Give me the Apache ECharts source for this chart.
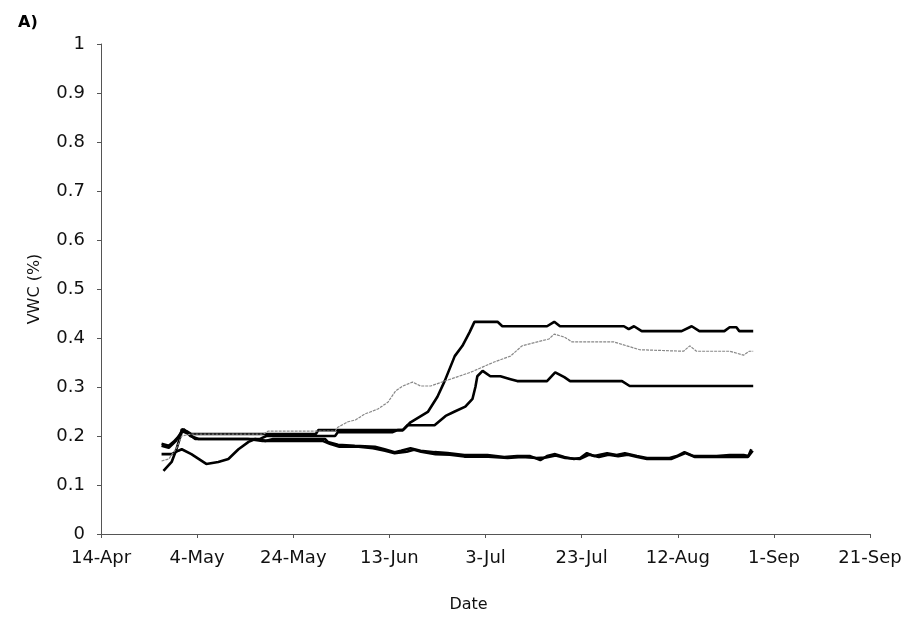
<!DOCTYPE html>
<html>
<head>
<meta charset="utf-8">
<script src="https://cdn.jsdelivr.net/npm/echarts@6/dist/echarts.min.js"></script>
<style>
  html, body { margin: 0; padding: 0; background: #fff; }
  #chart { width: 913px; height: 623px; }
</style>
</head>
<body>
<div id="chart"></div>
<script>
// x values are days after 14-Apr
const xTickDays = [0, 20, 40, 60, 80, 100, 120, 140, 160];
const yTicks = [0, 0.1, 0.2, 0.3, 0.4, 0.5, 0.6, 0.7, 0.8, 0.9, 1];

const s1Days = [12.6,14.1,15.1,16.6,16.8,17.8,18.8,44.7,45.2,62.8,64.4,68.0,70.0,71.5,73.6,75.2,76.7,77.7,82.5,83.5,92.8,94.3,95.5,108.8,109.8,110.9,112.5,120.8,122.9,124.5,129.7,130.8,132.2,132.8,135.7];
const s1Vals = [0.184,0.180,0.188,0.204,0.214,0.210,0.204,0.204,0.212,0.212,0.228,0.249,0.280,0.312,0.363,0.384,0.412,0.433,0.433,0.424,0.424,0.433,0.424,0.424,0.418,0.424,0.414,0.414,0.424,0.414,0.414,0.422,0.422,0.414,0.414];

const s2Days = [12.6,14.1,15.7,16.8,18.8,33.8,34.8,48.7,49.3,51.4,53.0,54.9,56.0,57.6,59.7,61.3,62.8,64.8,66.5,68.6,71.5,76.9,81.8,85.2,87.6,90.8,93.2,94.3,96.4,98.0,106.7,109.4,112.1,121.2,122.5,123.9,130.8,133.7,134.9,135.7];
const s2Vals = [0.149,0.153,0.175,0.200,0.204,0.204,0.210,0.210,0.218,0.229,0.233,0.245,0.249,0.255,0.269,0.292,0.302,0.310,0.302,0.302,0.312,0.330,0.351,0.363,0.384,0.392,0.398,0.408,0.402,0.392,0.392,0.384,0.376,0.373,0.384,0.373,0.373,0.365,0.373,0.373];

const s3Days = [13.0,14.7,15.7,16.8,17.2,18.6,20.3,33.1,34.4,48.7,49.3,60.7,61.7,62.8,63.8,69.4,71.7,73.6,75.8,77.3,77.9,78.3,79.4,81.0,83.1,85.2,86.6,92.8,94.5,96.4,97.6,108.4,110.0,135.7];
const s3Vals = [0.129,0.147,0.173,0.208,0.214,0.200,0.194,0.194,0.200,0.200,0.208,0.208,0.212,0.212,0.222,0.222,0.241,0.250,0.260,0.276,0.300,0.322,0.333,0.322,0.322,0.316,0.312,0.312,0.330,0.320,0.312,0.312,0.302,0.302];

const s4Days = [12.6,14.7,16.1,16.8,18.8,21.9,24.4,26.5,28.6,30.7,32.1,34.2,35.8,46.6,47.2,49.3,52.8,57.0,59.0,61.1,62.4,64.4,66.5,69.4,72.1,75.6,80.4,83.9,86.6,89.3,91.4,92.8,94.5,96.4,98.4,99.7,101.1,102.6,105.3,107.3,109.0,111.5,113.6,118.3,119.8,121.4,123.3,128.1,130.8,133.7,134.7,135.3];
const s4Vals = [0.163,0.163,0.170,0.173,0.163,0.143,0.147,0.153,0.173,0.188,0.194,0.190,0.194,0.194,0.188,0.182,0.180,0.178,0.173,0.167,0.170,0.175,0.170,0.167,0.165,0.161,0.161,0.157,0.159,0.159,0.151,0.159,0.163,0.157,0.153,0.155,0.165,0.159,0.165,0.161,0.165,0.159,0.155,0.155,0.159,0.167,0.159,0.159,0.161,0.161,0.159,0.173];

const s5Days = [12.6,14.1,15.6,16.8,18.1,19.6,30.6,33.6,35.6,46.1,47.6,49.6,53.6,56.6,59.1,61.1,63.6,65.1,66.6,69.6,72.6,75.6,80.6,84.6,87.6,90.6,92.6,94.6,96.6,99.6,101.6,103.6,105.6,107.6,109.6,111.6,113.6,118.6,121.6,123.6,128.6,131.6,134.6,135.6];
const s5Vals = [0.180,0.176,0.190,0.210,0.205,0.194,0.194,0.190,0.190,0.190,0.184,0.178,0.178,0.175,0.170,0.165,0.168,0.172,0.168,0.163,0.162,0.158,0.158,0.155,0.157,0.155,0.156,0.160,0.155,0.153,0.162,0.157,0.162,0.159,0.162,0.157,0.153,0.153,0.165,0.157,0.157,0.158,0.157,0.170];

const months = ['Jan','Feb','Mar','Apr','May','Jun','Jul','Aug','Sep','Oct','Nov','Dec'];
function dayLabel(v) {
  const d = new Date(2003, 3, 14 + Math.round(v));
  return d.getDate() + '-' + months[d.getMonth()];
}
function pairs(xs, ys) { return xs.map((x, i) => [x, ys[i]]); }

const font = 'DejaVu Sans, Liberation Sans, Arial, sans-serif';
const chart = echarts.init(document.getElementById('chart'));
const thick = { color: '#000', width: 2.6 };
chart.setOption({
  animation: false,
  backgroundColor: '#fff',
  title: {
    text: 'A)', left: 13, top: 10,
    textStyle: { fontFamily: font, fontSize: 16, fontWeight: 'bold', color: '#000' }
  },
  grid: { left: 101, right: 43, top: 44, bottom: 89 },
  xAxis: {
    type: 'value', min: 0, max: 160, interval: 20,
    name: 'Date', nameLocation: 'middle', nameGap: 63,
    nameTextStyle: { fontFamily: font, fontSize: 16, color: '#111', padding: [0, 34, 0, 0] },
    axisLine: { lineStyle: { color: '#555', width: 1 } },
    axisTick: { show: true, length: 4, inside: false, lineStyle: { color: '#555' } },
    axisLabel: { fontFamily: font, fontSize: 18, color: '#111', margin: 15, formatter: dayLabel },
    splitLine: { show: false }
  },
  yAxis: {
    type: 'value', min: 0, max: 1, interval: 0.1,
    name: 'VWC (%)', nameLocation: 'middle', nameGap: 58, nameRotate: 90,
    nameTextStyle: { fontFamily: font, fontSize: 16, color: '#111' },
    axisLine: { show: true, lineStyle: { color: '#555', width: 1 } },
    axisTick: { show: true, length: 4, lineStyle: { color: '#555' } },
    axisLabel: { fontFamily: font, fontSize: 18, color: '#111', margin: 16,
      formatter: v => String(Number(v.toFixed(1))) },
    splitLine: { show: false }
  },
  series: [
    { type: 'line', data: pairs(s4Days, s4Vals), showSymbol: false, lineStyle: thick, z: 2 },
    { type: 'line', data: pairs(s5Days, s5Vals), showSymbol: false, lineStyle: thick, z: 2 },
    { type: 'line', data: pairs(s3Days, s3Vals), showSymbol: false, lineStyle: thick, z: 2 },
    { type: 'line', data: pairs(s1Days, s1Vals), showSymbol: false, lineStyle: thick, z: 2 },
    { type: 'line', data: pairs(s2Days, s2Vals), showSymbol: false,
      lineStyle: { color: '#888', width: 1.2, type: [3, 1] }, z: 3 }
  ]
});
</script>
</body>
</html>
